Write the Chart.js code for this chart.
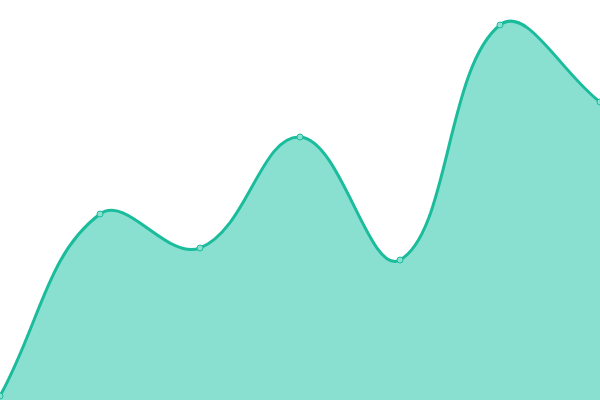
<!DOCTYPE html>
<html>
<head>
<meta charset="utf-8">
<script src="https://cdn.jsdelivr.net/npm/chart.js@4"></script>
<style>
  html, body { margin: 0; padding: 0; background: #fff; }
  #wrap { width: 600px; height: 400px; }
</style>
</head>
<body>
<div id="wrap"><canvas id="areaChart"></canvas></div>
<script>
var labels = ['A', 'B', 'C', 'D', 'E', 'F', 'G'];
var values = [4, 186, 152, 263, 140, 375, 298];
var yMin = 0;
var yMax = 400;

var ctx = document.getElementById('areaChart').getContext('2d');
new Chart(ctx, {
    type: 'line',
    data: {
        labels: labels,
        datasets: [
            {
                data: values,
                fill: 'start',
                backgroundColor: 'rgb(137, 224, 208)',
                borderColor: '#1abc9c',
                borderWidth: 3,
                tension: 0.4,
                pointRadius: 3,
                pointBorderWidth: 1,
                pointBackgroundColor: 'rgb(137, 224, 208)',
                pointBorderColor: '#1abc9c'
            }
        ]
    },
    options: {
        responsive: true,
        maintainAspectRatio: false,
        animation: false,
        layout: { padding: 0, autoPadding: false },
        plugins: {
            legend: { display: false },
            tooltip: { enabled: false }
        },
        scales: {
            x: { display: false, offset: false },
            y: { display: false, min: yMin, max: yMax }
        }
    }
});
</script>
</body>
</html>
